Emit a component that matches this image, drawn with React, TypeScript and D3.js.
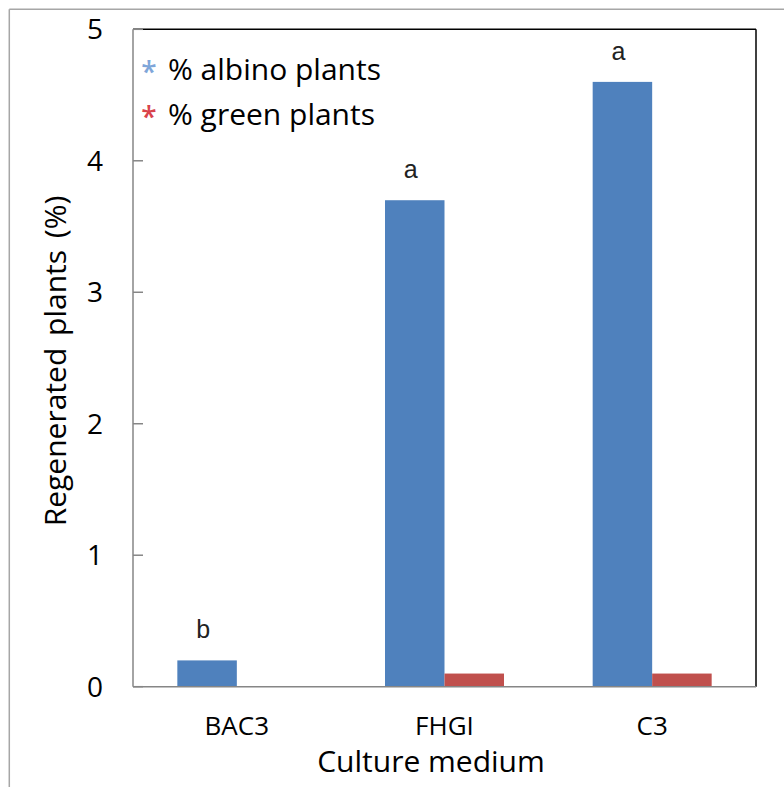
import React from "react";
import * as d3 from "d3";

const categories = ["BAC3", "FHGI", "C3"];
const albino = [0.2, 3.7, 4.6];
const green = [0, 0.1, 0.1];
const letters = ["b", "a", "a"];
const yTicks = [0, 1, 2, 3, 4, 5];
const seriesNames = ["% albino plants", "% green plants"];

const W = 784;
const H = 787;
const M = { left: 133, right: 756, top: 29.3, bottom: 686.7 };
const FONT = "'Open Sans', 'Noto Sans', sans-serif";

export default function App() {
  const x0 = d3.scaleBand<string>().domain(categories).range([M.left, M.right]).paddingInner(0).paddingOuter(0);
  const groupW = x0.bandwidth() * 0.573;
  const x1 = d3.scaleBand<string>().domain(["albino", "green"]).range([0, groupW]);
  const y = d3.scaleLinear().domain([0, 5]).range([M.bottom, M.top]);
  const blue = "#4F81BD";
  const red = "#C0504D";
  const axisGray = "#868686";

  return (
    <svg width={W} height={H} style={{ position: "absolute", left: 0, top: 0, background: "#fff" }}>
      <rect x={0} y={0} width={W} height={H} fill="#fff" />
      {/* outer frame */}
      <line x1={9.3} y1={9.3} x2={W} y2={9.3} stroke="#a6a6a6" strokeWidth={1.5} />
      <line x1={9.3} y1={9.3} x2={9.3} y2={H} stroke="#a6a6a6" strokeWidth={1.5} />

      {/* plot border top/right */}
      <line x1={M.left} y1={M.top} x2={M.right} y2={M.top} stroke="#000" strokeWidth={1.5} />
      <line x1={M.right} y1={M.top} x2={M.right} y2={M.bottom} stroke="#000" strokeWidth={1.5} />

      {/* bars */}
      {categories.map((c, i) => {
        const gx = (x0(c) as number) + (x0.bandwidth() - groupW) / 2;
        return (
          <g key={c}>
            <rect x={gx + (x1("albino") as number)} y={y(albino[i])} width={x1.bandwidth()} height={y(0) - y(albino[i])} fill={blue} />
            {green[i] > 0 && (
              <rect x={gx + (x1("green") as number)} y={y(green[i])} width={x1.bandwidth()} height={y(0) - y(green[i])} fill={red} />
            )}
            <text
              x={gx + (x1("albino") as number) + x1.bandwidth() / 2 - 4}
              y={y(albino[i]) - 22}
              textAnchor="middle"
              fontFamily="'Liberation Sans', Arial, sans-serif"
              fontSize={25}
              fill="#222"
            >
              {letters[i]}
            </text>
            <text
              x={(x0(c) as number) + x0.bandwidth() / 2}
              y={735}
              textAnchor="middle"
              fontFamily={FONT}
              fontSize={26}
              fill="#000"
            >
              {c}
            </text>
          </g>
        );
      })}

      {/* axes */}
      <line x1={M.left} y1={M.top} x2={M.left} y2={M.bottom} stroke={axisGray} strokeWidth={1.5} />
      <line x1={M.left} y1={M.bottom} x2={M.right} y2={M.bottom} stroke={axisGray} strokeWidth={1.5} />
      {yTicks.map((t) => (
        <g key={t}>
          <line x1={M.left} x2={M.left + 10} y1={y(t)} y2={y(t)} stroke={axisGray} strokeWidth={1.5} />
          <text x={103} y={y(t)} dy="0.36em" textAnchor="end" fontFamily={FONT} fontSize={28} fill="#000">
            {t}
          </text>
        </g>
      ))}

      {/* axis titles */}
      <text x={431} y={772} textAnchor="middle" fontFamily={FONT} fontSize={30} fill="#000">
        Culture medium
      </text>
      <text
        transform={`translate(66,${361}) rotate(-90)`}
        textAnchor="middle"
        fontFamily={FONT}
        fontSize={30}
        wordSpacing={4}
        fill="#000"
      >
        Regenerated plants (%)
      </text>

      {/* legend */}
      {seriesNames.map((s, i) => (
        <g key={s} transform={`translate(0,${80 + i * 45})`}>
          <text x={149} y={2} textAnchor="middle" fontFamily={FONT} fontSize={28} fontWeight={600} fill={i === 0 ? "#7EA6D9" : "#D9434B"}>
            *
          </text>
          <text x={168} y={0} fontFamily={FONT} fontSize={30} fill="#000">
            {s}
          </text>
        </g>
      ))}
    </svg>
  );
}
